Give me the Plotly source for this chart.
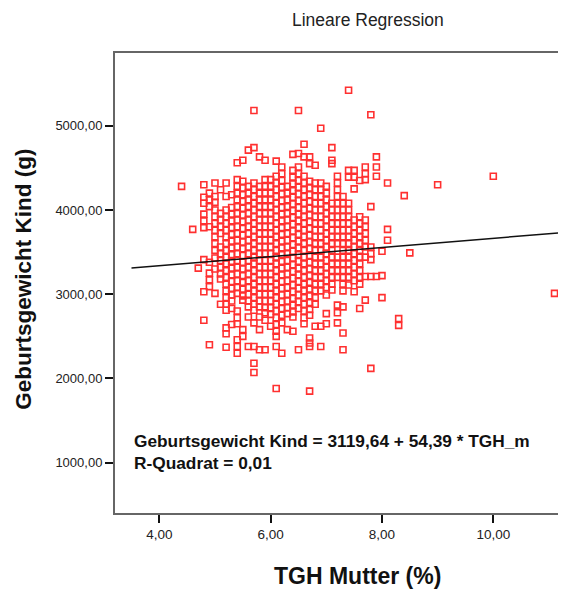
import plotly.graph_objects as go

# ---- data (TGH Mutter in %, Geburtsgewicht in g) ----
tgh_stufen = [4.4, 4.6, 4.7, 4.8, 4.9, 5.0, 5.1, 5.2, 5.3, 5.4, 5.5, 5.6, 5.7, 5.8, 5.9,
              6.0, 6.1, 6.2, 6.3, 6.4, 6.5, 6.6, 6.7, 6.8, 6.9, 7.0, 7.1, 7.2, 7.3, 7.4,
              7.5, 7.6, 7.7, 7.8, 7.9, 8.0, 8.1, 8.3, 8.4, 8.5, 9.0, 10.0, 11.1]

gewicht_je_stufe = [
    [4280],
    [3770],
    [3310],
    [4300, 4150, 4080, 3950, 3870, 3790, 3410, 3030, 2690],
    [4200, 4120, 4040, 3800, 3380, 3250, 3170, 3090, 2400],
    [4320, 4160, 4090, 4000, 3920, 3840, 3760, 3680, 3600, 3520, 3430, 3300, 3010],
    [4240, 3960, 3880, 3800, 3720, 3560, 3480, 3400, 3320, 3240, 3180, 2880],
    [4320, 4160, 4000, 3920, 3840, 3760, 3680, 3600, 3520, 3440, 3360, 3280, 3200, 3120,
     3040, 2960, 2880, 2810, 2600, 2530, 2370],
    [4180, 4030, 3950, 3870, 3790, 3710, 3630, 3550, 3470, 3390, 3310, 3230, 3150, 3070,
     2990, 2920, 2830, 2640],
    [4560, 4360, 4280, 4200, 4120, 4040, 3960, 3880, 3800, 3720, 3640, 3560, 3480, 3400,
     3320, 3240, 3160, 3080, 3010, 2800, 2720, 2650, 2460, 2380, 2300],
    [4590, 4340, 4260, 4180, 4100, 4020, 3940, 3860, 3780, 3700, 3620, 3540, 3460, 3380,
     3300, 3220, 3140, 3060, 2980, 2930, 2580, 2500],
    [4710, 4280, 4200, 4120, 4040, 3960, 3880, 3800, 3720, 3640, 3560, 3480, 3400, 3320,
     3240, 3160, 3080, 3000, 2920, 2850, 2730, 2380],
    [5180, 4740, 4320, 4240, 4160, 4080, 4000, 3920, 3840, 3760, 3680, 3600, 3520, 3440,
     3360, 3280, 3200, 3120, 3040, 2960, 2880, 2810, 2660, 2380, 2180, 2070],
    [4630, 4280, 4200, 4120, 4040, 3960, 3880, 3800, 3720, 3640, 3560, 3480, 3400, 3320,
     3240, 3160, 3080, 3000, 2920, 2850, 2730, 2580, 2340],
    [4590, 4360, 4280, 4200, 4120, 4040, 3960, 3880, 3800, 3720, 3640, 3560, 3480, 3400,
     3320, 3240, 3160, 3080, 3000, 2920, 2840, 2780, 2690, 2340],
    [4360, 4280, 4200, 4120, 4040, 3960, 3880, 3800, 3720, 3640, 3560, 3480, 3400, 3320,
     3240, 3160, 3080, 3000, 2920, 2840, 2760, 2620],
    [4580, 4400, 4320, 4240, 4160, 4080, 4000, 3920, 3840, 3760, 3680, 3600, 3520, 3440,
     3360, 3280, 3200, 3120, 3040, 2960, 2880, 2800, 2720, 2640, 2560, 2500, 2380, 1880],
    [4510, 4430, 4350, 4270, 4190, 4110, 4030, 3950, 3870, 3790, 3710, 3630, 3550, 3470,
     3390, 3310, 3230, 3150, 3070, 2990, 2910, 2830, 2750, 2660, 2300],
    [4280, 4200, 4120, 4040, 3960, 3880, 3800, 3720, 3640, 3560, 3480, 3400, 3320, 3240,
     3160, 3080, 3000, 2920, 2840, 2770, 2580],
    [4660, 4470, 4390, 4310, 4230, 4150, 4070, 3990, 3910, 3830, 3750, 3670, 3590, 3510,
     3430, 3350, 3270, 3190, 3110, 3030, 2950, 2870, 2790, 2730, 2560],
    [5180, 4670, 4510, 4430, 4350, 4270, 4190, 4110, 4030, 3950, 3870, 3790, 3710, 3630,
     3550, 3470, 3390, 3310, 3230, 3150, 3070, 2990, 2910, 2830, 2340],
    [4780, 4630, 4400, 4320, 4240, 4160, 4080, 4000, 3920, 3840, 3760, 3680, 3600, 3520,
     3440, 3360, 3280, 3200, 3120, 3040, 2960, 2880, 2800, 2720, 2650],
    [4630, 4550, 4340, 4260, 4180, 4100, 4020, 3940, 3860, 3780, 3700, 3620, 3540, 3460,
     3380, 3300, 3220, 3140, 3060, 2980, 2900, 2820, 2750, 2480, 2420, 2380, 1850],
    [4530, 4320, 4240, 4160, 4080, 4000, 3920, 3840, 3760, 3680, 3600, 3520, 3440, 3360,
     3280, 3200, 3120, 3040, 2960, 2880, 2620],
    [4970, 4320, 4240, 4160, 4080, 4000, 3920, 3840, 3760, 3680, 3600, 3520, 3440, 3360,
     3280, 3200, 3120, 3040, 2620, 2380],
    [4280, 4200, 4120, 4040, 3960, 3880, 3800, 3720, 3640, 3560, 3480, 3400, 3320, 3240,
     3160, 3080, 2990, 2770, 2650],
    [4740, 4590, 4550, 4080, 4000, 3920, 3840, 3760, 3680, 3600, 3520, 3440, 3360, 3280,
     3200, 3120, 3050],
    [4400, 4320, 4240, 4160, 4080, 4000, 3920, 3840, 3760, 3680, 3600, 3440, 3360, 3280,
     3200, 2870, 2780, 2660],
    [4160, 4080, 4000, 3920, 3840, 3760, 3680, 3600, 3520, 3440, 3360, 3280, 3200, 3120,
     3040, 2850, 2540, 2340],
    [5420, 4470, 4390, 4080, 4000, 3920, 3840, 3760, 3680, 3600, 3520, 3440, 3360, 3280,
     3200, 3110],
    [4470, 4390, 4250, 3880, 3800, 3720, 3640, 3560, 3480, 3400, 3320, 3240, 3160, 3030],
    [4350, 3920, 3840, 3760, 3680, 3600, 3520, 3440, 3360, 3280, 3200, 3120, 2830],
    [4510, 4430, 4360, 3880, 3800, 3720, 3640, 3560, 3440, 3210, 2930],
    [5130, 4040, 3560, 3480, 3410, 3210, 2120],
    [4630, 4510, 4400, 3210],
    [3510, 3220, 2960],
    [4320, 3770, 3640],
    [2710, 2630],
    [4170],
    [3490],
    [4300],
    [4400],
    [3010],
]

# regression shown in the chart
achsenabschnitt = 3119.64
steigung = 54.39
linie_x = [3.5, 11.22]

x_ticks = [4, 6, 8, 10]
x_ticktext = ["4,00", "6,00", "8,00", "10,00"]
y_ticks = [1000, 2000, 3000, 4000, 5000]
y_ticktext = ["1000,00", "2000,00", "3000,00", "4000,00", "5000,00"]

# ---- build figure ----
xs, ys = [], []
for stufe, werte in zip(tgh_stufen, gewicht_je_stufe):
    for w in werte:
        xs.append(stufe)
        ys.append(w)

linie_y = [achsenabschnitt + steigung * v for v in linie_x]

FONT = "Liberation Sans, Arial, sans-serif"

fig = go.Figure()
fig.add_trace(go.Scatter(
    x=xs, y=ys, mode="markers",
    marker=dict(symbol="square-open", size=6, color="#ff3030",
                line=dict(width=1.6, color="#ff3030")),
    showlegend=False, hoverinfo="skip"))
fig.add_trace(go.Scatter(
    x=linie_x, y=linie_y, mode="lines",
    line=dict(color="#111111", width=1.5),
    showlegend=False, hoverinfo="skip"))

# the page places the figure 8px from the top-left corner, so the figure
# is 8px smaller and its margins are shifted accordingly
fig.update_layout(
    width=558, height=581,
    margin=dict(l=107, r=0, t=45, b=76),
    paper_bgcolor="white", plot_bgcolor="white",
    font=dict(family=FONT, color="#222222"),
    xaxis=dict(range=[3.204, 11.306], showgrid=False, zeroline=False,
               showline=True, mirror=True, linecolor="#666666", linewidth=2,
               ticks="outside", ticklen=8, tickwidth=2, tickcolor="#111111",
               tickvals=x_ticks, ticktext=x_ticktext,
               tickfont=dict(size=13.5, family=FONT, color="#222222")),
    yaxis=dict(range=[403, 5863], showgrid=False, zeroline=False,
               showline=True, mirror=False, linecolor="#666666", linewidth=2,
               ticks="outside", ticklen=8, tickwidth=2, tickcolor="#111111",
               tickvals=y_ticks, ticktext=y_ticktext,
               tickfont=dict(size=13, family=FONT, color="#222222")),
    annotations=[
        dict(text="Lineare Regression", xref="paper", yref="paper",
             x=0.561, y=1.0717, xanchor="center", yanchor="middle",
             showarrow=False, font=dict(size=17.5, family=FONT, color="#222222")),
        dict(text="<b>Geburtsgewicht Kind (g)</b>", xref="paper", yref="paper",
             x=-0.2018, y=0.509, xanchor="center", yanchor="middle", textangle=-90,
             showarrow=False, font=dict(size=22.5, family=FONT, color="#111111")),
        dict(text="<b>TGH Mutter (%)</b>", xref="paper", yref="paper",
             x=0.5366, y=-0.137, xanchor="center", yanchor="middle",
             showarrow=False, font=dict(size=23, family=FONT, color="#111111")),
        dict(text="<b>Geburtsgewicht Kind = 3119,64 + 54,39 * TGH_m</b>",
             xref="paper", yref="paper", x=0.037, y=0.1565,
             xanchor="left", yanchor="middle", showarrow=False,
             font=dict(size=17.3, family=FONT, color="#111111")),
        dict(text="<b>R-Quadrat = 0,01</b>",
             xref="paper", yref="paper", x=0.037, y=0.1087,
             xanchor="left", yanchor="middle", showarrow=False,
             font=dict(size=17.3, family=FONT, color="#111111")),
    ],
)

fig.write_html("out.html")
